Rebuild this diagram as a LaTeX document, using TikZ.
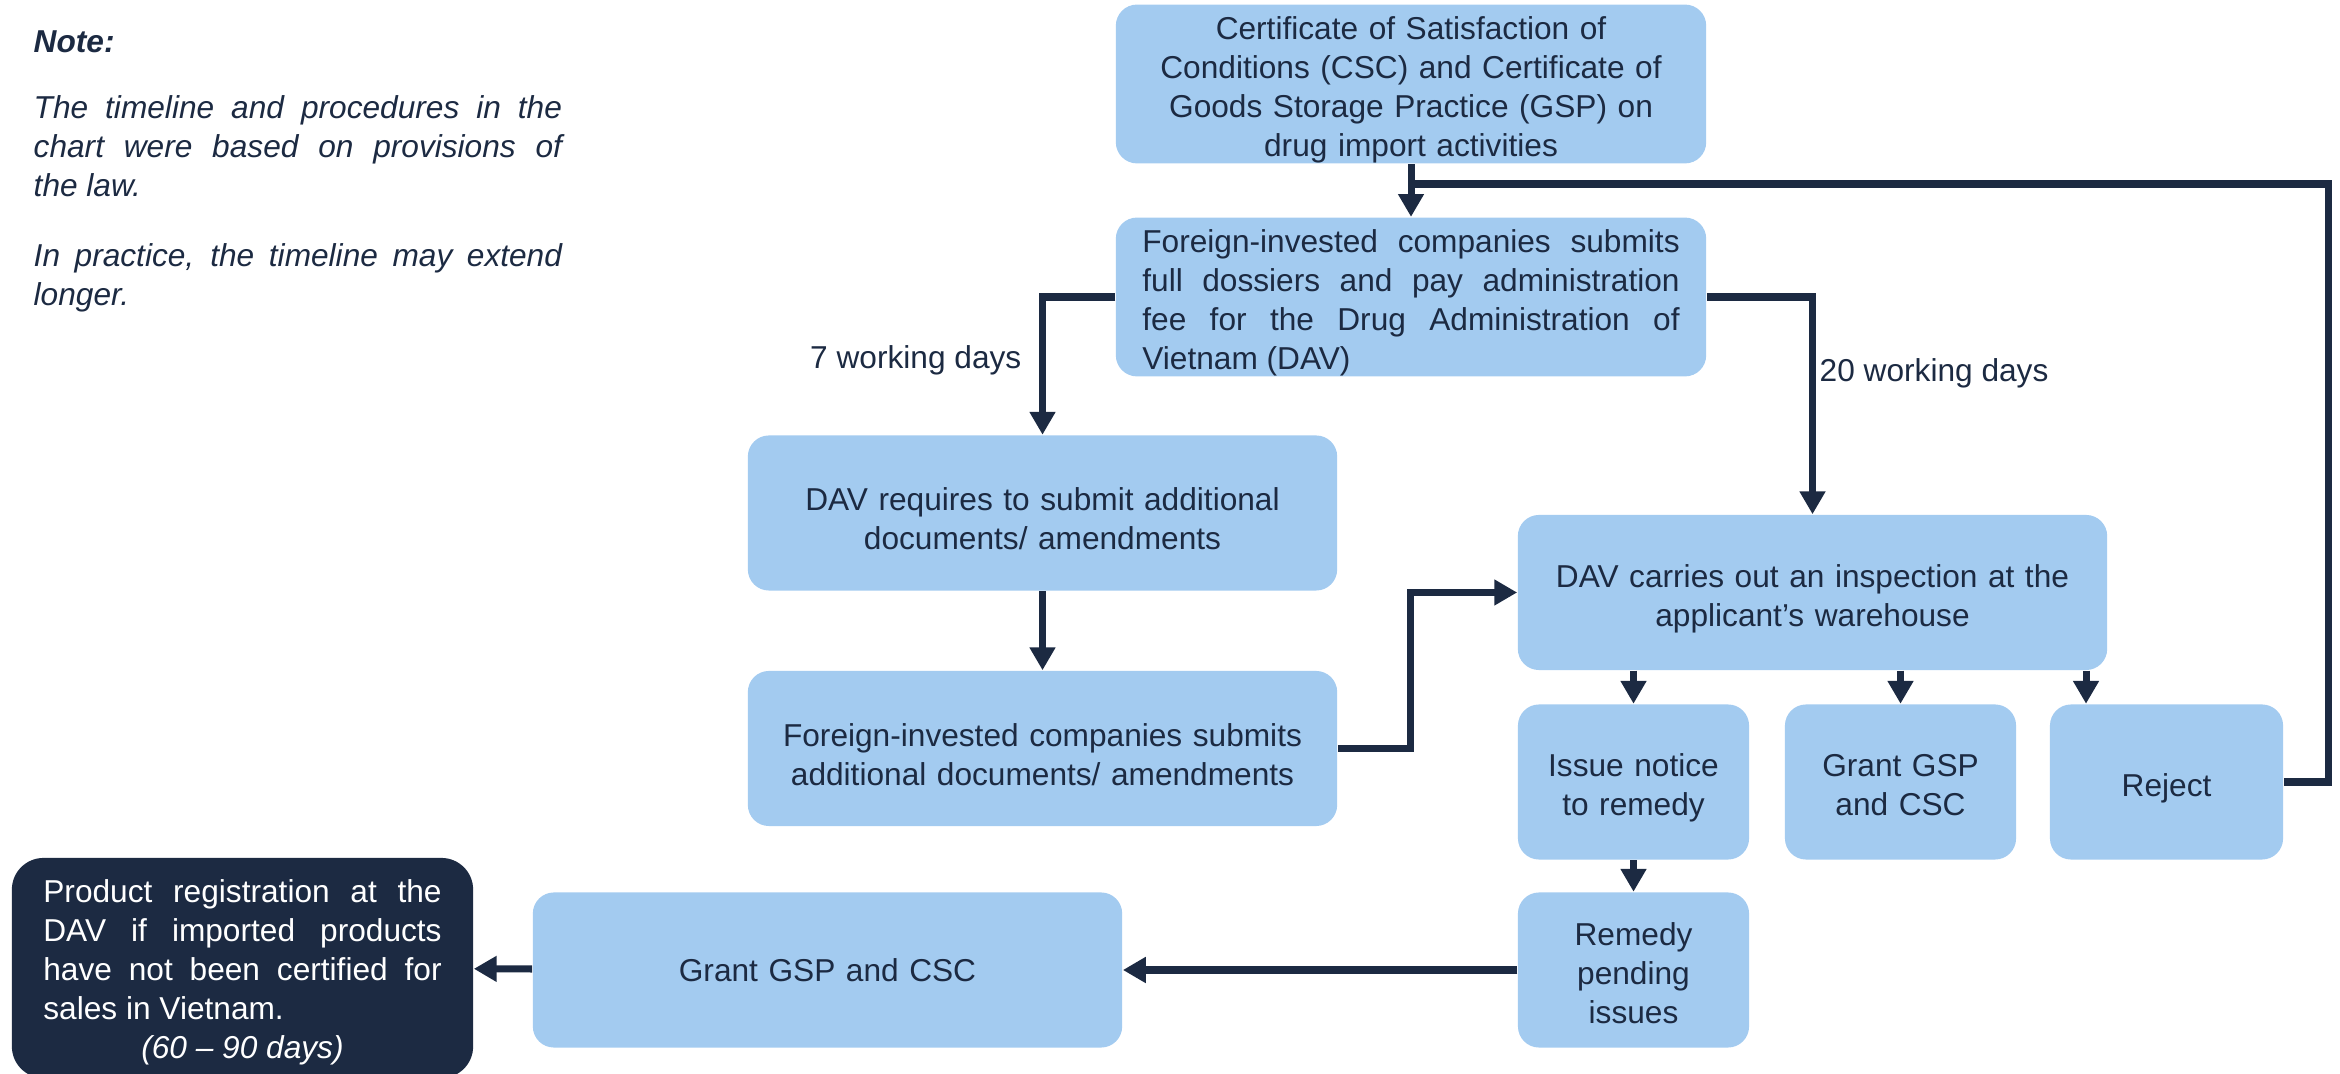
\documentclass[tikz,border=0pt]{standalone}
\usepackage{fontspec}
\setmainfont{Liberation Sans}
\usetikzlibrary{arrows.meta,positioning,calc}
\definecolor{boxblue}{HTML}{A3CBF0}
\definecolor{navy}{HTML}{1C2A42}
\hyphenpenalty=10000
\exhyphenpenalty=10000
\tikzset{
	procbox/.style={fill=boxblue, rounded corners=6pt, text=navy, align=center, inner sep=0pt, minimum height=1.55cm, font=\fontsize{9}{11.1}\selectfont, execute at begin node={\rule{0pt}{10pt}}},
	widebox/.style={procbox, minimum width=5.89cm, text width=5.6cm},
	narrowbox/.style={procbox, minimum width=2.31cm, text width=2.1cm},
	regbox/.style={fill=navy, rounded corners=9pt, text=white, inner sep=0pt, font=\fontsize{9}{11.1}\selectfont, execute at begin node={\rule{0pt}{9pt}}},
	flow/.style={draw=navy, line width=2pt, -{Triangle[length=6.5pt,width=7pt]}},
	link/.style={draw=navy, line width=2pt},
	dayslbl/.style={text=navy, inner sep=0pt, font=\fontsize{9}{11.1}\selectfont},
}

\begin{document}
\begin{tikzpicture}[x=0.01cm, y=-0.01cm]
	\useasboundingbox (0,0) rectangle (2340,1074);
	% note
	\node[anchor=north west, text width=5.28cm, align=justify, inner sep=0pt, text=navy, font=\fontsize{9}{11.1}\selectfont\itshape] (note) at (33,30)
		{\textbf{Note:}\par\vspace{7.6pt}
		The timeline and procedures in the\linebreak chart were based on provisions of\linebreak the law.\par\vspace{8.8pt}
		In practice, the timeline may extend\linebreak longer.};
	% boxes
	\node[widebox, minimum width=5.9cm] (cert) at (1411,84)
		{Certificate of Satisfaction of\\Conditions (CSC) and Certificate of\\Goods Storage Practice (GSP) on\\drug import activities};
	\node[widebox, minimum width=5.9cm, text width=5.37cm, align=justify] (submit) at (1411,297)
		{Foreign-invested companies submits\linebreak full dossiers and pay administration\linebreak fee for the Drug Administration of\linebreak Vietnam (DAV)};
	\node[widebox] (req) at (1042.5,513) {DAV requires to submit additional\\documents/ amendments};
	\node[widebox] (addl) at (1042.5,748.5) {Foreign-invested companies submits\\additional documents/ amendments};
	\node[widebox] (insp) at (1812.5,592.5) {DAV carries out an inspection at the\\applicant’s warehouse};
	\node[narrowbox] (notice) at (1633.5,782) {Issue notice\\to remedy};
	\node[narrowbox] (grantS) at (1900.5,782) {Grant GSP\\and CSC\rule[-2pt]{0pt}{2pt}};
	\node[narrowbox, minimum width=2.33cm] (reject) at (2166.5,782) {Reject};
	\node[narrowbox] (remedy) at (1633.5,970) {Remedy\\pending\\issues\rule[-2pt]{0pt}{2pt}};
	\node[widebox] (grantL) at (827.5,970) {Grant GSP and CSC\rule[-3.4pt]{0pt}{3.4pt}};
	\node[regbox, minimum width=4.61cm, minimum height=2.2cm, text width=3.98cm, align=justify] (prodreg) at (242.5,968)
		{Product registration at the DAV if imported products have not been certified for sales in Vietnam.\par
		{\centering\itshape (60 – 90 days)\par}};
	% labels
	\node[dayslbl, anchor=east] (sevendays) at (1022,360) {7 working days};
	\node[dayslbl, anchor=west] (twentydays) at (1819,373) {20 working days};
	% connectors
	\coordinate (retcorner) at (2328,184);
	\coordinate (rejtap) at (2086,0);
	\draw[flow] (cert) -- (submit);
	\draw[link] (reject.east) -| (retcorner) -- (cert.south |- retcorner);
	\draw[flow] (submit.west) -| (req.north);
	\draw[flow] (submit.east) -| (insp.north);
	\draw[flow] (req) -- (addl);
	\draw[flow] (addl.east) -- ++(73,0) |- (insp.west);
	\foreach \t in {notice,grantS}
		\draw[flow] (insp.south -| \t.north) -- (\t.north);
	\draw[flow] (insp.south -| rejtap) -- (reject.north -| rejtap);
	\draw[flow] (notice) -- (remedy);
	\draw[flow] (remedy) -- (grantL);
	\draw[flow] (grantL) -- (prodreg);
\end{tikzpicture}
\end{document}
